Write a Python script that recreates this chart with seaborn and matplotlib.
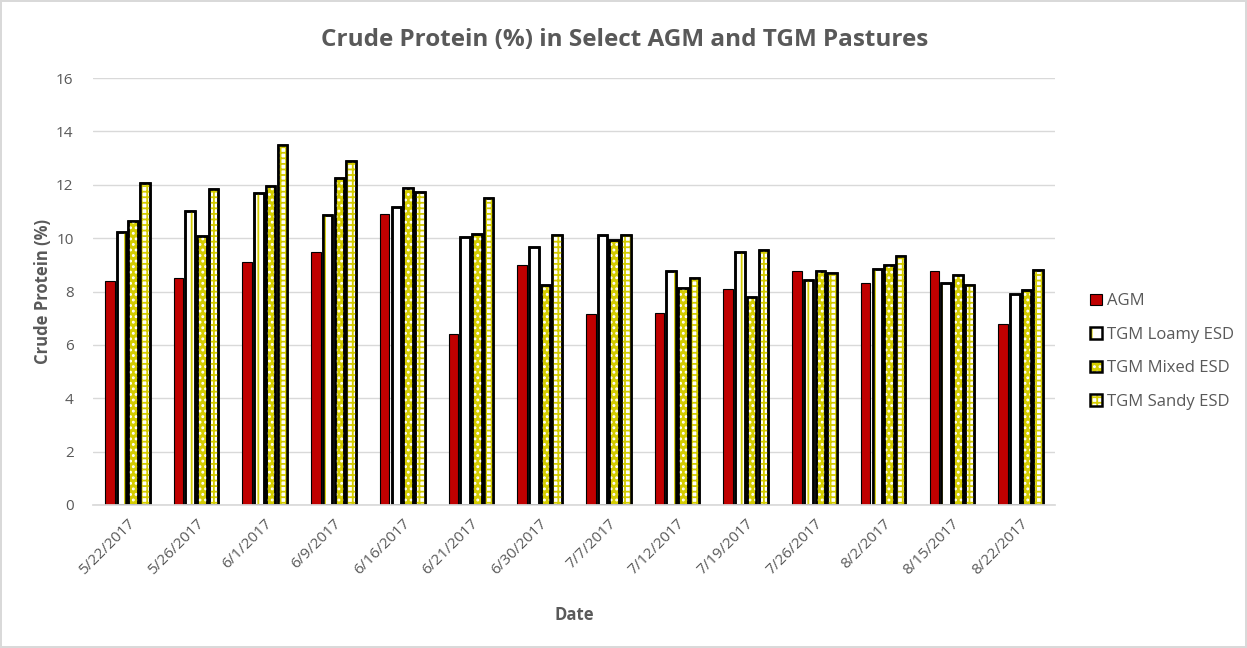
import matplotlib
matplotlib.use("Agg")
import matplotlib.pyplot as plt
from matplotlib.patches import Rectangle
from matplotlib.legend_handler import HandlerTuple
import seaborn as sns
import pandas as pd

dates = ["5/22/2017", "5/26/2017", "6/1/2017", "6/9/2017", "6/16/2017", "6/21/2017",
         "6/30/2017", "7/7/2017", "7/12/2017", "7/19/2017", "7/26/2017", "8/2/2017",
         "8/15/2017", "8/22/2017"]
agm = [8.4, 8.5, 9.1, 9.48, 10.9, 6.41, 8.99, 7.15, 7.2, 8.09, 8.77, 8.32, 8.77, 6.8]
tgm_loamy = [10.23, 11.02, 11.69, 10.87, 11.17, 10.04, 9.67, 10.1, 8.77, 9.48, 8.43, 8.85, 8.33, 7.9]
tgm_mixed = [10.64, 10.08, 11.95, 12.25, 11.88, 10.15, 8.24, 9.93, 8.13, 7.8, 8.77, 9.0, 8.63, 8.04]
tgm_sandy = [12.06, 11.84, 13.49, 12.89, 11.73, 11.5, 10.12, 10.1, 8.5, 9.55, 8.7, 9.34, 8.25, 8.82]
series_names = ["AGM", "TGM Loamy ESD", "TGM Mixed ESD", "TGM Sandy ESD"]

rows = []
for name, vals in zip(series_names, [agm, tgm_loamy, tgm_mixed, tgm_sandy]):
    for d, v in zip(dates, vals):
        rows.append({"Date": d, "Value": v, "Series": name})
df = pd.DataFrame(rows)

RED = "#C00000"
YEL = "#D4CC00"
faces = {"AGM": RED, "TGM Loamy ESD": "white", "TGM Mixed ESD": YEL, "TGM Sandy ESD": "white"}
hatches = {"AGM": None, "TGM Loamy ESD": "|", "TGM Mixed ESD": "...", "TGM Sandy ESD": "+++"}
hcolors = {"AGM": None, "TGM Loamy ESD": YEL, "TGM Mixed ESD": "white", "TGM Sandy ESD": YEL}
edge_lw = {"AGM": 0.8, "TGM Loamy ESD": 1.8, "TGM Mixed ESD": 1.8, "TGM Sandy ESD": 1.8}

sns.set_theme(style="white")
plt.rcParams["font.family"] = ["Open Sans", "DejaVu Sans"]
plt.rcParams["hatch.linewidth"] = 1.3

fig = plt.figure(figsize=(12.47, 6.48), dpi=100)
fig.patch.set_edgecolor("#D9D9D9")
fig.patch.set_linewidth(1.5)
ax = fig.add_axes([0.0746, 0.2207, 0.846 - 0.0746, 0.8796 - 0.2207])

sns.barplot(data=df, x="Date", y="Value", hue="Series", order=dates, hue_order=series_names,
            palette=faces, width=0.68, gap=0.18, ax=ax, legend=False, saturation=1)

for name, cont in zip(series_names, ax.containers):
    for bar in cont:
        x, y = bar.get_x(), bar.get_y()
        w, h = bar.get_width(), bar.get_height()
        bar.set_edgecolor("black")
        bar.set_linewidth(edge_lw[name])
        if hatches[name]:
            ov = Rectangle((x, y), w, h, facecolor="none", edgecolor=hcolors[name],
                           linewidth=0, hatch=hatches[name], zorder=bar.get_zorder() + 0.1)
            ax.add_patch(ov)
            ol = Rectangle((x, y), w, h, facecolor="none", edgecolor="black",
                           linewidth=edge_lw[name], zorder=bar.get_zorder() + 0.2)
            ax.add_patch(ol)

ax.set_ylim(0, 16)
ax.set_yticks(range(0, 17, 2))
ax.set_xlim(-0.5, len(dates) - 0.5)
ax.grid(axis="y", color="#D9D9D9", linewidth=1)
ax.set_axisbelow(True)
for s in ["top", "right", "left"]:
    ax.spines[s].set_visible(False)
ax.spines["bottom"].set_color("#D9D9D9")
ax.tick_params(axis="both", length=0, colors="#595959", labelsize=11)
ax.tick_params(axis="y", pad=14)
plt.setp(ax.get_xticklabels(), rotation=45, ha="right", rotation_mode="anchor")
ax.tick_params(axis="x", pad=8)
ax.set_xlabel("Date", fontsize=12, fontweight="bold", color="#595959", labelpad=20)
ax.set_ylabel("Crude Protein (%)", fontsize=12, fontweight="bold", color="#595959", labelpad=3)

fig.suptitle("Crude Protein (%) in Select AGM and TGM Pastures", x=0.501, y=0.957,
             fontsize=17.5, fontweight="bold", color="#595959")

handles = []
for name in series_names:
    f = Rectangle((0, 0), 1, 1, facecolor=faces[name], edgecolor="none")
    parts = [f]
    if hatches[name]:
        parts.append(Rectangle((0, 0), 1, 1, facecolor="none", edgecolor=hcolors[name],
                               linewidth=0, hatch=hatches[name]))
    parts.append(Rectangle((0, 0), 1, 1, facecolor="none", edgecolor="black",
                           linewidth=edge_lw[name]))
    handles.append(tuple(parts))
leg = fig.legend(handles, series_names, loc="center left", bbox_to_anchor=(0.862, 0.4576),
                 frameon=False, fontsize=12, labelcolor="#595959", handlelength=0.7,
                 handleheight=0.7, handletextpad=0.35, labelspacing=1.05,
                 handler_map={tuple: HandlerTuple(ndivide=1, pad=0)})

fig.savefig("out.png", dpi=100)
